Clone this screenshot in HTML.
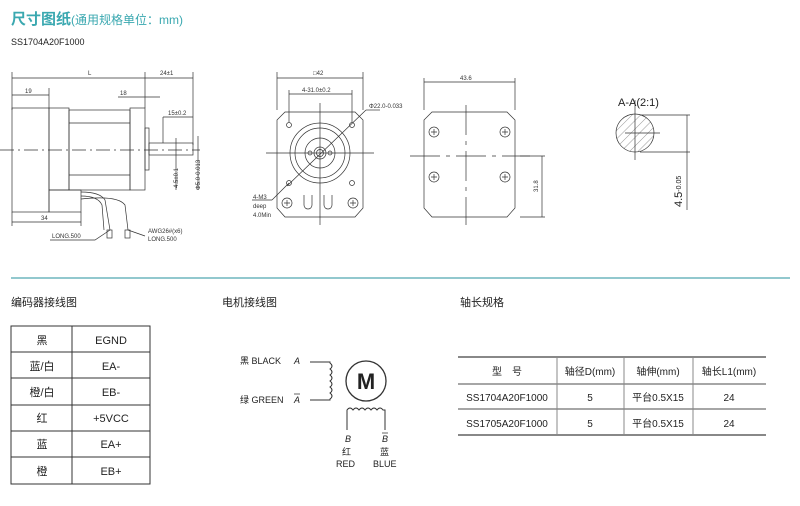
<!DOCTYPE html>
<html><head><meta charset="utf-8"><style>
html,body{margin:0;padding:0;background:#fff;width:800px;height:506px;overflow:hidden}
svg{display:block}
text{font-family:"Liberation Sans","Noto Sans CJK SC",sans-serif}
</style></head><body>
<svg width="800" height="506" viewBox="0 0 800 506" xmlns="http://www.w3.org/2000/svg">
<defs>
<pattern id="h" width="6" height="6" patternUnits="userSpaceOnUse" patternTransform="rotate(45)"><line x1="0" y1="0" x2="0" y2="6" stroke="#555" stroke-width="0.6"/></pattern>
</defs>
<text x="11" y="24" font-size="15" fill="#3aa8b0" font-weight="bold">尺寸图纸<tspan font-size="12" font-weight="normal">(通用规格单位：mm)</tspan></text>
<text x="11" y="45" font-size="9" fill="#222">SS1704A20F1000</text>

<g stroke="#333" stroke-width="0.7" fill="none">
<line x1="12" y1="78" x2="193" y2="78"/><line x1="12" y1="72" x2="12" y2="110"/><line x1="145" y1="72" x2="145" y2="108"/><line x1="193" y1="72" x2="193" y2="145"/>
<line x1="12" y1="95" x2="49" y2="95"/><line x1="49" y1="88" x2="49" y2="108"/>
<line x1="118" y1="97" x2="160" y2="97"/>
<line x1="163" y1="117" x2="193" y2="117"/><line x1="163" y1="117" x2="163" y2="143"/>
<rect x="12" y="108" width="37" height="104"/>
<rect x="49" y="108" width="20" height="82"/>
<rect x="69" y="110" width="61" height="80"/>
<line x1="69" y1="123" x2="130" y2="123"/><line x1="69" y1="175" x2="130" y2="175"/>
<rect x="130" y="108" width="15" height="82"/>
<rect x="145" y="128" width="4" height="42"/>
<rect x="149" y="143" width="44" height="12"/>
<rect x="49" y="190" width="32" height="22"/>
<line x1="12" y1="222" x2="81" y2="222"/><line x1="81" y1="212" x2="81" y2="226"/><line x1="12" y1="212" x2="12" y2="226"/>
<line x1="0" y1="150" x2="200" y2="150" stroke-dasharray="14 4 2 4"/>
<line x1="176" y1="138" x2="176" y2="190"/><line x1="198" y1="136" x2="198" y2="190"/>
<path d="M81 192 Q100 192 105 200 L110 230 M81 196 Q98 196 102 205 L104 230 M81 199 Q118 195 125 205 L128 230"/>
<rect x="107" y="230" width="5" height="8"/><rect x="125" y="230" width="5" height="8"/>
<path d="M50 240 L95 240 L110 230 M128 230 L145 236"/>
<line x1="277" y1="78" x2="363" y2="78"/><line x1="277" y1="72" x2="277" y2="110"/><line x1="363" y1="72" x2="363" y2="110"/>
<line x1="289" y1="94" x2="352" y2="94"/><line x1="289" y1="90" x2="289" y2="122"/><line x1="352" y1="90" x2="352" y2="122"/>
<path d="M285 112 L355 112 L363 120 L363 208 L355 217 L285 217 L277 208 L277 120 Z"/>
<circle cx="320" cy="153" r="30"/><circle cx="320" cy="153" r="25"/><circle cx="320" cy="153" r="15"/><circle cx="320" cy="153" r="6"/><circle cx="320" cy="153" r="3.5"/>
<circle cx="310" cy="153" r="2"/><circle cx="330" cy="153" r="2"/>
<circle cx="289" cy="125" r="2.5"/><circle cx="352" cy="125" r="2.5"/><circle cx="289" cy="183" r="2.5"/><circle cx="352" cy="183" r="2.5"/>
<circle cx="287" cy="203" r="5"/><circle cx="353" cy="203" r="5"/>
<path d="M284 203 h6 M287 200 v6 M350 203 h6 M353 200 v6"/>
<path d="M304 195 L304 205 A4 4 0 0 0 312 205 L312 195 M324 195 L324 205 A4 4 0 0 0 332 205 L332 195"/>
<line x1="266" y1="153" x2="374" y2="153"/><line x1="320" y1="103" x2="320" y2="225"/>
<line x1="287" y1="186" x2="366" y2="110"/><line x1="366" y1="110" x2="380" y2="110"/>
<line x1="252" y1="200" x2="272" y2="200"/><line x1="272" y1="200" x2="289" y2="183"/>
<line x1="424" y1="82" x2="515" y2="82"/><line x1="424" y1="78" x2="424" y2="110"/><line x1="515" y1="78" x2="515" y2="110"/>
<path d="M432 112 L507 112 L515 120 L515 208 L507 217 L432 217 L424 208 L424 120 Z"/>
<circle cx="434" cy="132" r="5"/><circle cx="505" cy="132" r="5"/><circle cx="434" cy="177" r="5"/><circle cx="505" cy="177" r="5"/>
<path d="M431 132 h6 M434 129 v6 M502 132 h6 M505 129 v6 M431 177 h6 M434 174 v6 M502 177 h6 M505 174 v6"/>
<line x1="466" y1="105" x2="466" y2="225" stroke-dasharray="30 6 4 6"/>
<line x1="410" y1="156" x2="530" y2="156" stroke-dasharray="30 6 4 6"/>
<line x1="520" y1="156" x2="545" y2="156"/><line x1="520" y1="217" x2="545" y2="217"/><line x1="542" y1="156" x2="542" y2="217"/>
<circle cx="635" cy="133" r="19" fill="url(#h)"/>
<line x1="635" y1="100" x2="635" y2="160"/><line x1="625" y1="133" x2="660" y2="133"/>
<line x1="640" y1="115" x2="690" y2="115"/><line x1="640" y1="152" x2="690" y2="152"/><line x1="687" y1="115" x2="687" y2="210"/>
</g>
<g font-size="6" fill="#333">
<text x="88" y="75">L</text><text x="160" y="75">24±1</text><text x="25" y="93">19</text><text x="120" y="95">18</text><text x="168" y="115">15±0.2</text>
<text x="41" y="220">34</text><text x="52" y="238">LONG.500</text><text x="148" y="233">AWG26#(x6)</text><text x="148" y="241">LONG.500</text>
<text transform="translate(178,188) rotate(-90)">4.5±0.1</text><text transform="translate(200,190) rotate(-90)">Φ5.0-0.013</text>
<text x="313" y="75">□42</text><text x="302" y="92">4-31.0±0.2</text><text x="369" y="108">Φ22.0-0.033</text>
<text x="253" y="199">4-M3</text><text x="253" y="208">deep</text><text x="253" y="217">4.0Min</text>
<text x="460" y="80">43.6</text><text transform="translate(538,192) rotate(-90)">31.8</text>
</g>
<text x="618" y="106" font-size="11" fill="#222">A-A(2:1)</text>
<text transform="translate(682,207) rotate(-90)" font-size="11" fill="#222">4.5<tspan font-size="7" dy="-1">-0.05</tspan></text>

<line x1="11" y1="278" x2="790" y2="278" stroke="#6fb5bd" stroke-width="1.5"/>

<g font-size="11" fill="#222">
<text x="11" y="306">编码器接线图</text><text x="222" y="306">电机接线图</text><text x="460" y="306">轴长规格</text>
</g>
<g stroke="#333" stroke-width="1" fill="none">
<rect x="11" y="326" width="139" height="158"/><line x1="72" y1="326" x2="72" y2="484"/>
<line x1="11" y1="352" x2="150" y2="352"/><line x1="11" y1="378" x2="150" y2="378"/><line x1="11" y1="405" x2="150" y2="405"/><line x1="11" y1="431" x2="150" y2="431"/><line x1="11" y1="457" x2="150" y2="457"/>
</g>
<g font-size="11" fill="#222" text-anchor="middle">
<text x="42" y="344">黑</text><text x="111" y="344">EGND</text>
<text x="42" y="370">蓝/白</text><text x="111" y="370">EA-</text>
<text x="42" y="396">橙/白</text><text x="111" y="396">EB-</text>
<text x="42" y="422">红</text><text x="111" y="422">+5VCC</text>
<text x="42" y="448">蓝</text><text x="111" y="448">EA+</text>
<text x="42" y="475">橙</text><text x="111" y="475">EB+</text>
</g>
<g stroke="#333" stroke-width="1" fill="none">
<path d="M310 362 L330 362 L330 363 q4 3 0 6 q4 3 0 6 q4 3 0 6 q4 3 0 6 q4 3 0 6 q4 3 0 6 L330 400 L310 400"/>
<circle cx="366" cy="381" r="20" stroke-width="1.3"/>
<path d="M347 430 L347 410 q3 -4 6 0 q3 -4 6 0 q3 -4 6 0 q3 -4 6 0 q3 -4 6 0 q3 -4 6 0 L385 410 L385 430"/>
</g>
<text x="366" y="389" font-size="22" font-weight="bold" text-anchor="middle" fill="#222">M</text>
<g font-size="9" fill="#222">
<text x="240" y="364">黑 BLACK</text><text x="294" y="364" font-style="italic">A</text>
<text x="240" y="403">绿 GREEN</text><text x="294" y="403" font-style="italic">A</text><line x1="294" y1="394" x2="300" y2="394" stroke="#222" stroke-width="0.7"/>
<text x="345" y="442" font-style="italic">B</text><text x="382" y="442" font-style="italic">B</text><line x1="382" y1="433" x2="388" y2="433" stroke="#222" stroke-width="0.7"/>
<text x="342" y="455">红</text><text x="380" y="455">蓝</text>
<text x="336" y="467">RED</text><text x="373" y="467">BLUE</text>
</g>
<g stroke="#888" fill="none">
<line x1="458" y1="357" x2="766" y2="357" stroke-width="2"/>
<line x1="458" y1="384" x2="766" y2="384" stroke-width="1.5"/>
<line x1="458" y1="409" x2="766" y2="409" stroke-width="1.5"/>
<line x1="458" y1="435" x2="766" y2="435" stroke-width="2"/>
<line x1="557" y1="357" x2="557" y2="435"/><line x1="624" y1="357" x2="624" y2="435"/><line x1="693" y1="357" x2="693" y2="435"/>
</g>
<g font-size="10" fill="#222" text-anchor="middle">
<text x="507" y="375">型　号</text><text x="590" y="375">轴径D(mm)</text><text x="658" y="375">轴伸(mm)</text><text x="729" y="375">轴长L1(mm)</text>
<text x="507" y="401">SS1704A20F1000</text><text x="590" y="401">5</text><text x="658" y="401">平台0.5X15</text><text x="729" y="401">24</text>
<text x="507" y="427">SS1705A20F1000</text><text x="590" y="427">5</text><text x="658" y="427">平台0.5X15</text><text x="729" y="427">24</text>
</g>
</svg>
</body></html>
